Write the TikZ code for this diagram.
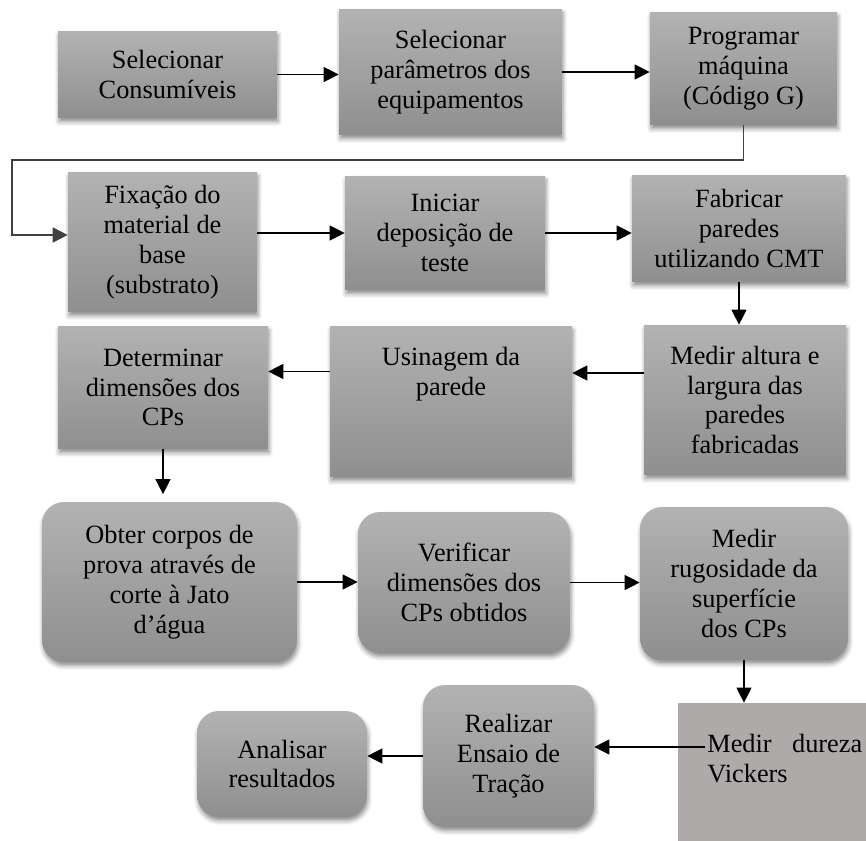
\documentclass[tikz,border=0pt]{standalone}
\usepackage{fontspec}
\setmainfont{Liberation Serif}
\usepackage{tikz}
\usetikzlibrary{arrows.meta, shadows.blur}

\definecolor{vkgray}{HTML}{AEAAA9}

\tikzset{
  stepbox/.style={top color=gray!60, bottom color=gray!88, inner sep=0pt, align=center,
    font=\fontsize{15}{17}\selectfont,
    blur shadow={shadow xshift=0.6pt, shadow yshift=-2.2pt, shadow blur radius=2.5pt, shadow opacity=45}},
  roundbox/.style={stepbox, rounded corners=0.44cm},
  flow/.style={line width=0.7pt, -{Triangle[length=0.3cm, width=0.3cm]}},
}

\begin{document}
\begin{tikzpicture}[x=0.02cm, y=-0.02cm]
\useasboundingbox (0,0) rectangle (866,841);
%%%% first row
\node[stepbox, minimum width=4.38cm, minimum height=1.74cm] (consum) at (167.5,74.5) {Selecionar\\Consumíveis};
\node[stepbox, minimum width=4.46cm, minimum height=2.52cm] (param) at (450.5,72) {Selecionar\\parâmetros dos\\equipamentos};
\node[stepbox, minimum width=3.74cm, minimum height=2.26cm] (prog) at (743.5,68.5) {Programar\\máquina\\(Código G)};
%%%% second row
\node[stepbox, minimum width=3.78cm, minimum height=2.8cm] (fixa) at (162.5,242) {Fixação do\\material de\\base\\(substrato)};
\node[stepbox, minimum width=4.0cm, minimum height=2.28cm] (inicia) at (445,233) {Iniciar\\deposição de\\teste};
\node[stepbox, minimum width=4.28cm, minimum height=2.14cm] (fabrica) at (739,228.5) {Fabricar\\paredes\\utilizando CMT};
%%%% third row (right to left)
\node[stepbox, minimum width=4.04cm, minimum height=3.0cm] (medir) at (745,400) {Medir altura e\\largura das\\paredes\\fabricadas};
\node[stepbox, minimum width=4.84cm, minimum height=3.02cm] (usina) at (451,401.5) {Usinagem da\\parede\\\mbox{}\\\mbox{}};
\node[stepbox, minimum width=4.2cm, minimum height=2.46cm] (determ) at (163,387.5) {Determinar\\dimensões dos\\CPs};
%%%% fourth row, rounded boxes
\node[roundbox, minimum width=5.1cm, minimum height=3.2cm] (jato) at (169.5,582) {Obter corpos de\\prova através de\\corte à Jato\\d’água};
\node[roundbox, minimum width=4.24cm, minimum height=2.82cm] (verif) at (464,582.5) {Verificar\\dimensões dos\\CPs obtidos};
\node[roundbox, minimum width=4.16cm, minimum height=3.06cm] (rugos) at (744,583.5) {Medir\\rugosidade da\\superfície\\dos CPs};
%%%% last row
\node[fill=vkgray, inner sep=0pt, minimum width=3.76cm, minimum height=2.76cm] (vk) at (772,772) {};
\node[anchor=north west, inner sep=0pt, text width=3.1cm, align=justify,
  font=\fontsize{15}{17}\selectfont] (vktext) at (707,734) {Medir dureza Vickers};
\coordinate (vkin) at (705,747);
\node[roundbox, minimum width=3.42cm, minimum height=2.84cm] (ensaio) at (508.5,756) {Realizar\\Ensaio de\\Tração};
\node[roundbox, minimum width=3.4cm, minimum height=2.12cm] (analisa) at (282,764) {Analisar\\resultados};
%%%% connectors
\draw[flow] (consum.east) -- (consum.east -| param.west);
\draw[flow] (param.east) -- (param.east -| prog.west);
\coordinate (loopL) at (12,160);
\draw[flow, line width=1pt, draw=black!75] (prog.south) |- (loopL) |- ([yshift=0.14cm]fixa.west);
\draw[flow] (inicia.west -| fixa.east) -- (inicia.west);
\draw[flow] (inicia.east) -- (inicia.east -| fabrica.west);
\draw[flow] (fabrica.south) -- (fabrica.south |- medir.north);
\draw[flow] ([yshift=0.54cm]medir.west) -- ([yshift=0.54cm]medir.west -| usina.east);
\draw[flow] ([yshift=0.6cm]usina.west) -- ([yshift=0.6cm]usina.west -| determ.east);
\draw[flow, shorten >=0.15cm] (determ.south) -- (determ.south |- jato.north);
\draw[flow] (jato.east) -- (jato.east -| verif.west);
\draw[flow] (verif.east) -- (verif.east -| rugos.west);
\draw[flow] (rugos.south) -- (rugos.south |- vk.north);
\draw[flow] (vkin) -- (vkin -| ensaio.east);
\draw[flow] (ensaio.west) -- (ensaio.west -| analisa.east);
\end{tikzpicture}
\end{document}
